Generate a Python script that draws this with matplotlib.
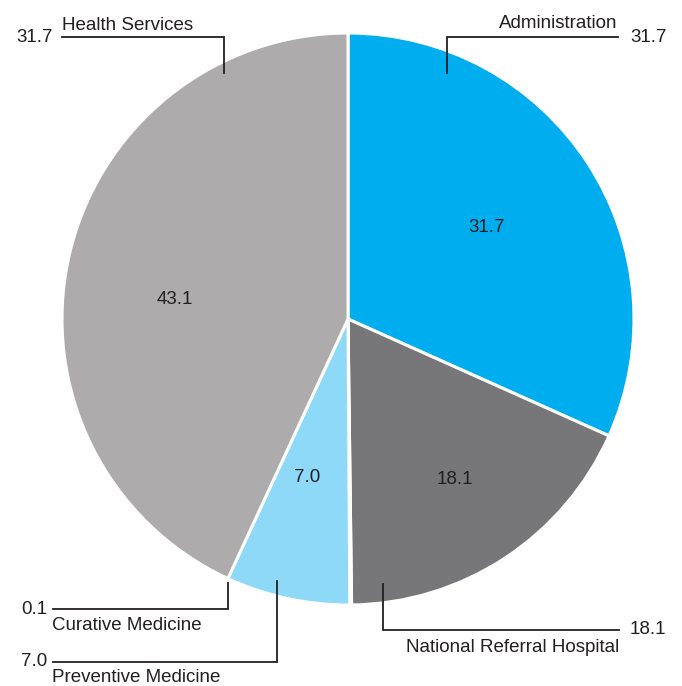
import matplotlib
matplotlib.use("Agg")
import matplotlib.pyplot as plt

plt.rcParams["font.family"] = ["Liberation Sans", "DejaVu Sans"]

# --- data ---
categories = ["Administration", "National Referral Hospital", "Curative Medicine",
              "Preventive Medicine", "Health Services"]
values = [31.7, 18.1, 0.1, 7.0, 43.1]
inner_labels = ["31.7", "18.1", "", "7.0", "43.1"]
outer_values = ["31.7", "18.1", "0.1", "7.0", "31.7"]
colors = ["#00AEEF", "#777678", "#ADABAC", "#8ED8F8", "#ADABAC"]

W, H = 682, 686
TXT = "#231F20"
FS = 13.5

fig = plt.figure(figsize=(W / 100, H / 100), dpi=100)
ax = fig.add_axes([0, 0, 1, 1])

def py(y):  # pixel row -> data y
    return H - y

cx, cy, R = 348, py(319), 286
ax.pie(values, colors=colors, startangle=90, counterclock=False,
       center=(cx, cy), radius=R, frame=True,
       wedgeprops=dict(edgecolor="white", linewidth=2.2))
ax.set_xlim(0, W)
ax.set_ylim(0, H)
ax.set_aspect("equal")
ax.axis("off")

# inner value label positions (px)
inner_pos = [(487, 228), (455, 480), None, (307, 478), (175, 300)]
for lab, pos in zip(inner_labels, inner_pos):
    if pos:
        ax.text(pos[0], py(pos[1]), lab, ha="center", va="center", fontsize=FS, color=TXT)

# leader lines: vertical at x from y0 to elbow y1, then horizontal to xe
leaders = [
    # Administration
    dict(x=447, y0=73, y1=37, xe=618, name_pos=(617, 28.5, "right"),
         val_pos=(630, 37, "left")),
    # National Referral Hospital
    dict(x=383, y0=584, y1=630, xe=619, name_pos=(619, 651.5, "right"),
         val_pos=(630, 630, "left")),
    # Curative Medicine
    dict(x=228, y0=583, y1=609, xe=53, name_pos=(52, 630.5, "left"),
         val_pos=(47, 609, "right")),
    # Preventive Medicine
    dict(x=277, y0=581, y1=662, xe=53, name_pos=(52, 682, "left"),
         val_pos=(47, 662, "right")),
    # Health Services
    dict(x=224, y0=73, y1=37, xe=62, name_pos=(62, 29.5, "left"),
         val_pos=(53, 37, "right")),
]
for cat, val, ld in zip(categories, outer_values, leaders):
    ax.plot([ld["x"], ld["x"], ld["xe"]], [py(ld["y0"]), py(ld["y1"]), py(ld["y1"])],
            color=TXT, linewidth=1.3, solid_joinstyle="miter")
    nx, ny, ha = ld["name_pos"]
    ax.text(nx, py(ny), cat, ha=ha, va="baseline", fontsize=FS, color=TXT)
    vx, vy, vha = ld["val_pos"]
    ax.text(vx, py(vy), val, ha=vha, va="center", fontsize=FS, color=TXT)

fig.savefig("out.png", dpi=100)
